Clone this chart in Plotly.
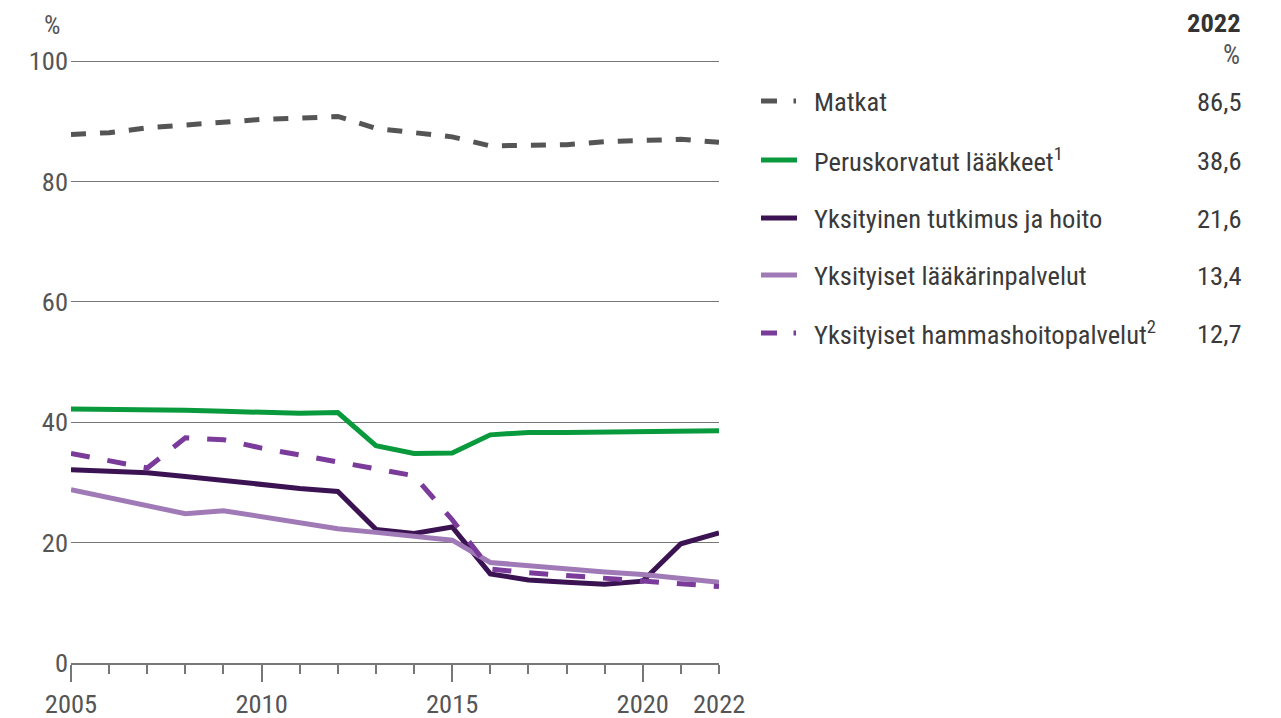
import plotly.graph_objects as go

years = list(range(2005, 2023))

series_names = [
    "Matkat",
    "Peruskorvatut lääkkeet<sup>1</sup>",
    "Yksityinen tutkimus ja hoito",
    "Yksityiset lääkärinpalvelut",
    "Yksityiset hammashoitopalvelut<sup>2</sup>",
]

matkat = [87.8, 88.1, 88.9, 89.4, 90.0, 90.3, 90.5, 90.8, 88.8, 88.2, 87.4, 85.9, 85.9, 86.1, 86.6, 86.9, 87.0, 86.5]
laakkeet = [42.2, 42.2, 42.0, 42.0, 41.8, 41.6, 41.5, 41.6, 36.1, 34.8, 34.9, 37.9, 38.3, 38.3, 38.4, 38.4, 38.5, 38.6]
tutkimus = [32.1, 31.8, 31.6, 31.0, 30.3, 29.6, 29.0, 28.5, 22.2, 21.5, 22.6, 14.8, 13.8, 13.4, 13.1, 13.6, 19.8, 21.6]
laakari = [28.8, 27.5, 26.1, 24.8, 25.3, 24.3, 23.2, 22.3, 21.7, 21.1, 20.4, 16.7, 16.1, 15.6, 15.1, 14.7, 14.1, 13.4]
hammas = [34.8, 33.5, 32.4, 37.4, 37.1, 35.7, 34.6, 33.5, 32.4, 31.1, 23.8, 15.6, 15.0, 14.5, 14.1, 13.6, 13.2, 12.7]

values_2022 = ["86,5", "38,6", "21,6", "13,4", "12,7"]

y_ticks = [0, 20, 40, 60, 80, 100]
x_major = [2005, 2010, 2015, 2020]

colors = ["#555555", "#0a9a3e", "#3c1352", "#a07ab6", "#7b3b9b"]
dashes = ["15px,14px", "solid", "solid", "solid", "19px,18px"]
data = [matkat, laakkeet, tutkimus, laakari, hammas]

FONT = "Liberation Sans Narrow, Roboto Condensed, Arial Narrow, sans-serif"

OFF = 8  # page body margin
W, H = 1281 - 2 * OFF, 718 - OFF
L = 71 - OFF
T = 60 - OFF
B = H - (663 - OFF)
R = 0
PW = W - L - R
PH = H - T - B
YMAX = 100.17


def px(x):
    return (x - OFF - L) / PW


def py(y):
    return (H - B - (y - OFF)) / PH


fig = go.Figure()
for name, vals, c, d in zip(series_names, data, colors, dashes):
    fig.add_trace(go.Scatter(
        x=years, y=vals, mode="lines", name=name,
        line=dict(color=c, width=5, dash=d),
        showlegend=False, hoverinfo="skip",
    ))

shapes = []
annotations = []

TXT = 26.5
row_y = [101, 160, 218, 275, 333]
for i, (name, c, d, v) in enumerate(zip(series_names, colors, dashes, values_2022)):
    yy = py(row_y[i])
    if d == "solid":
        shapes.append(dict(type="line", xref="paper", yref="paper",
                           x0=px(761), x1=px(797), y0=yy, y1=yy,
                           line=dict(color=c, width=5)))
    else:
        shapes.append(dict(type="line", xref="paper", yref="paper",
                           x0=px(761), x1=px(777), y0=yy, y1=yy,
                           line=dict(color=c, width=5)))
        shapes.append(dict(type="line", xref="paper", yref="paper",
                           x0=px(793.5), x1=px(796), y0=yy, y1=yy,
                           line=dict(color=c, width=5)))
    annotations.append(dict(xref="paper", yref="paper", x=px(812), y=yy,
                            text=name, showarrow=False, xanchor="left", yanchor="middle",
                            font=dict(family=FONT, size=TXT, color="#3a3a3a")))
    annotations.append(dict(xref="paper", yref="paper", x=px(1243), y=yy,
                            text=v, showarrow=False, xanchor="right", yanchor="middle",
                            font=dict(family=FONT, size=TXT, color="#3a3a3a")))

annotations.append(dict(xref="paper", yref="paper", x=px(1243), y=py(22),
                        text="<b>2022</b>", showarrow=False, xanchor="right", yanchor="middle",
                        font=dict(family=FONT, size=TXT, color="#333333")))
annotations.append(dict(xref="paper", yref="paper", x=px(1242), y=py(55),
                        text="%", showarrow=False, xanchor="right", yanchor="middle",
                        font=dict(family=FONT, size=27, color="#555555")))
annotations.append(dict(xref="paper", yref="paper", x=px(62), y=py(25),
                        text="%", showarrow=False, xanchor="right", yanchor="middle",
                        font=dict(family=FONT, size=26, color="#555555")))
annotations.append(dict(xref="x", yref="paper", x=2022, y=py(703),
                        text="2022", showarrow=False, xanchor="center", yanchor="middle",
                        font=dict(family=FONT, size=TXT, color="#555555")))

fig.update_layout(
    width=W, height=H,
    margin=dict(l=L, r=R, t=T, b=B, pad=0, autoexpand=False),
    plot_bgcolor="white", paper_bgcolor="white",
    font=dict(family=FONT, size=TXT, color="#555555"),
    shapes=shapes, annotations=annotations,
    showlegend=False,
)
fig.update_xaxes(
    domain=[0, 648 / PW], range=[2005, 2022], automargin=False,
    showgrid=False, zeroline=False,
    showline=True, linecolor="#777777", linewidth=1.5,
    tickvals=x_major, ticktext=[str(v) for v in x_major],
    ticks="outside", ticklen=17, tickwidth=1.5, tickcolor="#777777",
    minor=dict(tickvals=years, ticks="outside", ticklen=9, tickwidth=1.5, tickcolor="#777777"),
    tickfont=dict(family=FONT, size=TXT, color="#555555"),
    ticklabelstandoff=-1,
)
fig.update_yaxes(
    range=[0, YMAX], tickvals=y_ticks, ticktext=[str(v) for v in y_ticks], automargin=False,
    showgrid=True, gridcolor="#777777", gridwidth=1.2,
    zeroline=False, showline=False, ticks="",
    tickfont=dict(family=FONT, size=TXT, color="#555555"),
    ticklabelstandoff=2,
)

fig.write_html("out.html")
